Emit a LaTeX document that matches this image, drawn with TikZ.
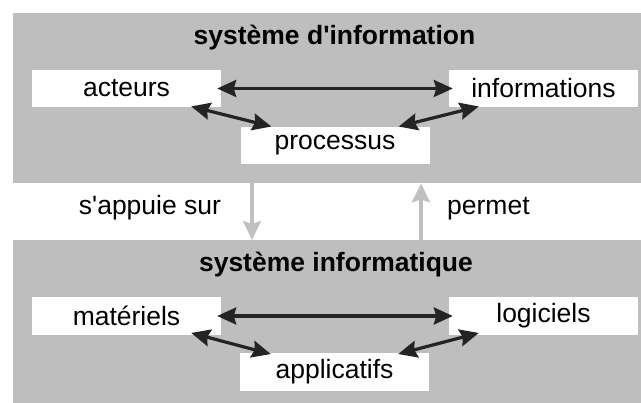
\documentclass[tikz,border=0pt]{standalone}
\usepackage{fontspec}
\setmainfont{Liberation Sans}
\usetikzlibrary{arrows.meta,calc}
\definecolor{panelgray}{RGB}{190,190,190}
\definecolor{linkgray}{RGB}{192,192,192}
\definecolor{darkline}{RGB}{36,36,36}
\begin{document}
\begin{tikzpicture}[x=1pt,y=-1pt,
  every node/.style={font=\fontsize{26.5}{30}\selectfont, text=black},
  panel/.style={fill=panelgray, draw=none, inner sep=0pt, anchor=north west},
  itembox/.style={fill=white, draw=none, minimum width=189pt, minimum height=37.5pt, inner sep=0pt},
  titletext/.style={font=\fontsize{26.5}{30}\selectfont\bfseries, anchor=base, inner sep=0pt},
  labeltext/.style={anchor=base, inner sep=0pt},
  biarrow/.style={draw=darkline, line width=3.2pt,
     {Stealth[length=19pt,width=17pt,inset=2.5pt]}-{Stealth[length=19pt,width=17pt,inset=2.5pt]}},
  grayarrow/.style={draw=linkgray, line width=3.3pt, -{Stealth[length=19pt,width=18pt,inset=3pt]}}
]
\useasboundingbox (0,0) rectangle (641,403);
\fill[white] (0,0) rectangle (641,403);

% panels
\node[panel, minimum width=628pt, minimum height=170pt] (top) at (13,13) {};
\node[panel, minimum width=628pt, minimum height=163pt] (bot) at (13,240) {};

% titles
\node[titletext] (t1) at (334.5,45) {système d\textquotesingle information};
\node[titletext] (t2) at (336,272) {système informatique};

% top boxes
\node[itembox] (acteurs) at (126.5,88.5) {acteurs};
\node[itembox] (infos) at (543.5,88.5) {informations};
\node[itembox] (proc) at (335,145.5) {processus};

% bottom boxes
\node[itembox] (mat) at (126.5,316) {matériels};
\node[itembox] (log) at (543.5,316) {logiciels};
\node[itembox] (app) at (334.5,372) {applicatifs};

% arrows top
\draw[biarrow] ($(acteurs.east)+(-4,0)$) -- ($(infos.west)+(4,0)$);
\draw[biarrow] ($(acteurs.south east)+(-30,-1)$) -- ($(proc.north west)+(31,0)$);
\draw[biarrow] ($(infos.south west)+(30,-1)$) -- ($(proc.north east)+(-31,0)$);

% arrows bottom
\draw[biarrow] ($(mat.east)+(-4,0)$) -- ($(log.west)+(4,0)$);
\draw[biarrow] ($(mat.south east)+(-30,-2)$) -- ($(app.north west)+(31,1)$);
\draw[biarrow] ($(log.south west)+(30,-2)$) -- ($(app.north east)+(-31,1)$);

% links between panels
\draw[grayarrow] ($(top.south west)+(239,-1)$) -- ($(bot.north west)+(239,0)$);
\draw[grayarrow] ($(bot.north west)+(408,1)$) -- ($(top.south west)+(408,0)$);

\node[labeltext] (lab1) at (150,215) {s\textquotesingle appuie sur};
\node[labeltext, anchor=base west] (lab2) at (447,215) {permet};
\end{tikzpicture}
\end{document}
